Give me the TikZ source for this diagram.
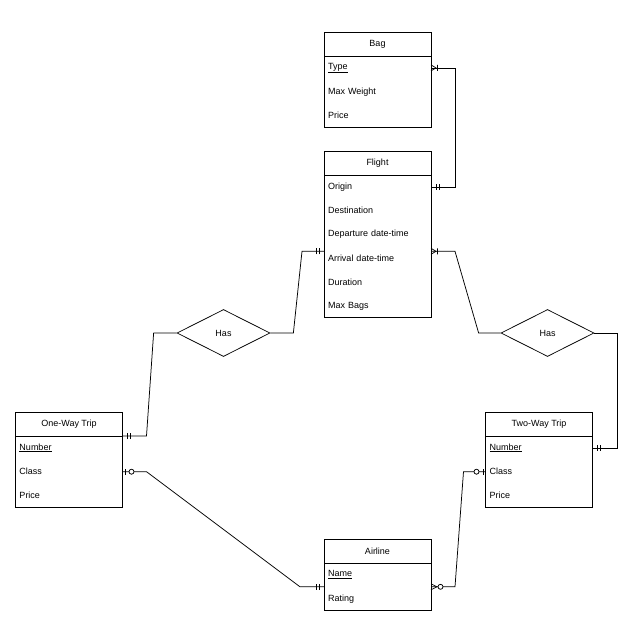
\documentclass[tikz,border=0pt]{standalone}
\usepackage{fontspec}
\setmainfont{Liberation Sans}
\usetikzlibrary{positioning,shapes.geometric}
\newcommand{\erfont}{\fontsize{9}{11}\selectfont}
\tikzset{entity/.style={draw,minimum width=107pt,minimum height=24pt,inner sep=0pt,outer sep=0pt,
  font=\erfont},
  attr/.style={text width=99pt,inner xsep=4pt,inner ysep=0pt,outer sep=0pt,minimum height=23.8pt,
  align=left,font=\erfont},
  rel/.style={draw,diamond,aspect=2,minimum width=93pt,minimum height=47pt,inner sep=0pt,
  font=\erfont},
  link/.style={line width=0.75pt,draw=black},
  erone/.pic={\draw[link] (5pt,-3pt)--(5pt,3pt) (8pt,-3pt)--(8pt,3pt);},
  ermany/.pic={\draw[link] (0pt,-3pt)--(5pt,0pt)--(0pt,3pt) (6.5pt,-3pt)--(6.5pt,3pt);},
  erzeroone/.pic={\draw[link] (2.5pt,-3pt)--(2.5pt,3pt);
    \draw[link,fill=white] (9pt,0pt) circle (2.5pt);},
  erzeromany/.pic={\draw[link] (0pt,-3pt)--(6pt,0pt)--(0pt,3pt);
    \draw[link,fill=white] (9.5pt,0pt) circle (2.5pt);}}
\begin{document}
\begin{tikzpicture}[x=1pt,y=-1pt,line width=0.75pt]
\useasboundingbox (0,0) rectangle (640,640);
% entities
\node[entity] (baghd) at (377.5,44) {Bag};
\node[attr,below=0pt of baghd] (bagtype) {\underline{Type}};
\node[attr,below=0pt of bagtype] (bagweight) {Max Weight};
\node[attr,below=0pt of bagweight] (bagprice) {Price};
\draw (baghd.north west) rectangle (bagprice.south east);

\node[entity] (flyhd) at (377.5,163) {Flight};
\node[attr,below=0pt of flyhd] (flyorigin) {Origin};
\node[attr,below=0pt of flyorigin] (flydest) {Destination};
\node[attr,below=0pt of flydest] (flydepart) {Departure date-time};
\node[attr,below=0pt of flydepart] (flyarrive) {Arrival date-time};
\node[attr,below=0pt of flyarrive] (flydur) {Duration};
\node[attr,below=0pt of flydur] (flybags) {Max Bags};
\draw (flyhd.north west) rectangle (flybags.south east);

\node[entity] (onehd) at (69,424) {One-Way Trip};
\node[attr,below=0pt of onehd] (onenum) {\underline{Number}};
\node[attr,below=0pt of onenum] (oneclass) {Class};
\node[attr,below=0pt of oneclass] (oneprice) {Price};
\draw (onehd.north west) rectangle (oneprice.south east);

\node[entity] (twohd) at (539,424) {Two-Way Trip};
\node[attr,below=0pt of twohd] (twonum) {\underline{Number}};
\node[attr,below=0pt of twonum] (twoclass) {Class};
\node[attr,below=0pt of twoclass] (twoprice) {Price};
\draw (twohd.north west) rectangle (twoprice.south east);

\node[entity] (airhd) at (377.5,551) {Airline};
\node[attr,below=0pt of airhd] (airname) {\underline{Name}};
\node[attr,below=0pt of airname] (airrating) {Rating};
\draw (airhd.north west) rectangle (airrating.south east);

% relationships
\node[rel] (hasone) at (223.5,333) {Has};
\node[rel] (hastwo) at (547.5,333) {Has};

% connectors
\draw[link] (bagtype.east) -- ++(24,0) |- (flyorigin.east);
\draw[link] ([yshift=7pt]flyarrive.west) -- ++(-22,0) -- ([xshift=23pt]hasone.east) -- (hasone.east);
\draw[link] (hasone.west) -- ++(-23,0) -- ([xshift=24pt]onehd.south east) -- (onehd.south east);
\draw[link] ([yshift=7pt]flyarrive.east) -- ++(24,0) -- ([xshift=-22pt]hastwo.west) -- (hastwo.west);
\draw[link] (hastwo.east) -- ++(23,0) |- (twonum.east);
\draw[link] (oneclass.east) -- ++(24,0) -- ([xshift=-24pt]airname.south west) -- (airname.south west);
\draw[link] (airname.south east) -- ++(24,0) -- ([xshift=-22pt]twoclass.west) -- (twoclass.west);

% cardinality marks
\pic at (bagtype.east) {ermany};
\pic at (flyorigin.east) {erone};
\pic[xscale=-1] at ([yshift=7pt]flyarrive.west) {erone};
\pic at ([yshift=7pt]flyarrive.east) {ermany};
\pic at (onehd.south east) {erone};
\pic at (twonum.east) {erone};
\pic at (oneclass.east) {erzeroone};
\pic[xscale=-1] at (airname.south west) {erone};
\pic at (airname.south east) {erzeromany};
\pic[xscale=-1] at (twoclass.west) {erzeroone};
\end{tikzpicture}
\end{document}
